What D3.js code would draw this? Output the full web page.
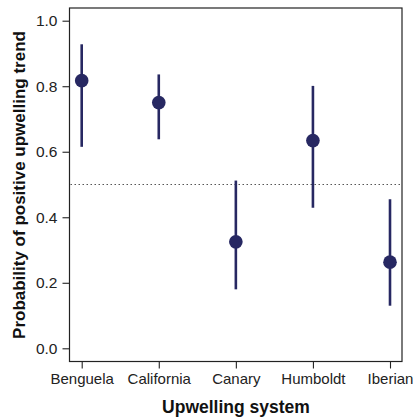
<!DOCTYPE html>
<html>
<head>
<meta charset="utf-8">
<script src="https://cdn.jsdelivr.net/npm/d3@7"></script>
<style>
  html, body { margin: 0; padding: 0; background: #fff; }
  svg { display: block; font-family: "Liberation Sans", Arial, Helvetica, sans-serif; }
</style>
</head>
<body>
<svg id="chart" width="413" height="417"></svg>
<script>
// Upwelling systems and posterior probability of a positive trend (with interval bounds)
const systems = ["Benguela", "California", "Canary", "Humboldt", "Iberian"];
const probability = [0.817, 0.750, 0.325, 0.634, 0.263];
const lower = [0.615, 0.638, 0.180, 0.429, 0.130];
const upper = [0.928, 0.836, 0.512, 0.801, 0.455];
const yTicks = [0.0, 0.2, 0.4, 0.6, 0.8, 1.0];
const threshold = 0.5;

const svg = d3.select("#chart");
const box = { left: 69.5, right: 402, top: 8, bottom: 361.5 };
const ink = "#272862";

const x = d3.scalePoint().domain(systems).range([81.7, 390]);
const y = d3.scaleLinear().domain([0, 1]).range([348.3, 20.7]);

// plot frame
svg.append("rect")
  .attr("x", box.left).attr("y", box.top)
  .attr("width", box.right - box.left).attr("height", box.bottom - box.top)
  .attr("fill", "none").attr("stroke", "#222").attr("stroke-width", 1.2);

// y axis
const yAxis = svg.append("g")
  .attr("transform", `translate(${box.left},0)`)
  .call(d3.axisLeft(y).tickValues(yTicks).tickFormat(d3.format(".1f")).tickSize(7).tickPadding(5));
yAxis.select(".domain").remove();
yAxis.selectAll("line").attr("stroke", "#222").attr("stroke-width", 1.1);
yAxis.selectAll("text").attr("font-size", 15.5).attr("fill", "#222")
  .attr("font-family", "Liberation Sans, Arial, sans-serif");

// x axis
const xAxis = svg.append("g")
  .attr("transform", `translate(0,${box.bottom})`)
  .call(d3.axisBottom(x).tickSize(7).tickPadding(5));
xAxis.select(".domain").remove();
xAxis.selectAll("line").attr("stroke", "#222").attr("stroke-width", 1.1);
xAxis.selectAll("text").attr("font-size", 15).attr("fill", "#222")
  .attr("font-family", "Liberation Sans, Arial, sans-serif");

// 0.5 reference line
svg.append("line")
  .attr("x1", box.left + 1).attr("x2", box.right - 1)
  .attr("y1", y(threshold)).attr("y2", y(threshold))
  .attr("stroke", "#555").attr("stroke-width", 1.1).attr("stroke-dasharray", "1.5,2.5");

const rows = systems.map((s, i) => ({ s, p: probability[i], lo: lower[i], hi: upper[i] }));

// interval bars
svg.append("g").selectAll("line").data(rows).join("line")
  .attr("x1", d => x(d.s)).attr("x2", d => x(d.s))
  .attr("y1", d => y(d.lo)).attr("y2", d => y(d.hi))
  .attr("stroke", ink).attr("stroke-width", 2.6);

// point estimates
svg.append("g").selectAll("circle").data(rows).join("circle")
  .attr("cx", d => x(d.s)).attr("cy", d => y(d.p)).attr("r", 6.8)
  .attr("fill", ink);

// axis titles
svg.append("text")
  .attr("x", 236).attr("y", 413)
  .attr("text-anchor", "middle").attr("font-size", 17.5).attr("font-weight", "bold")
  .attr("fill", "#111").text("Upwelling system");

svg.append("text")
  .attr("transform", `translate(25,185) rotate(-90)`)
  .attr("text-anchor", "middle").attr("font-size", 17).attr("font-weight", "bold")
  .attr("fill", "#111").text("Probability of positive upwelling trend");
</script>
</body>
</html>
